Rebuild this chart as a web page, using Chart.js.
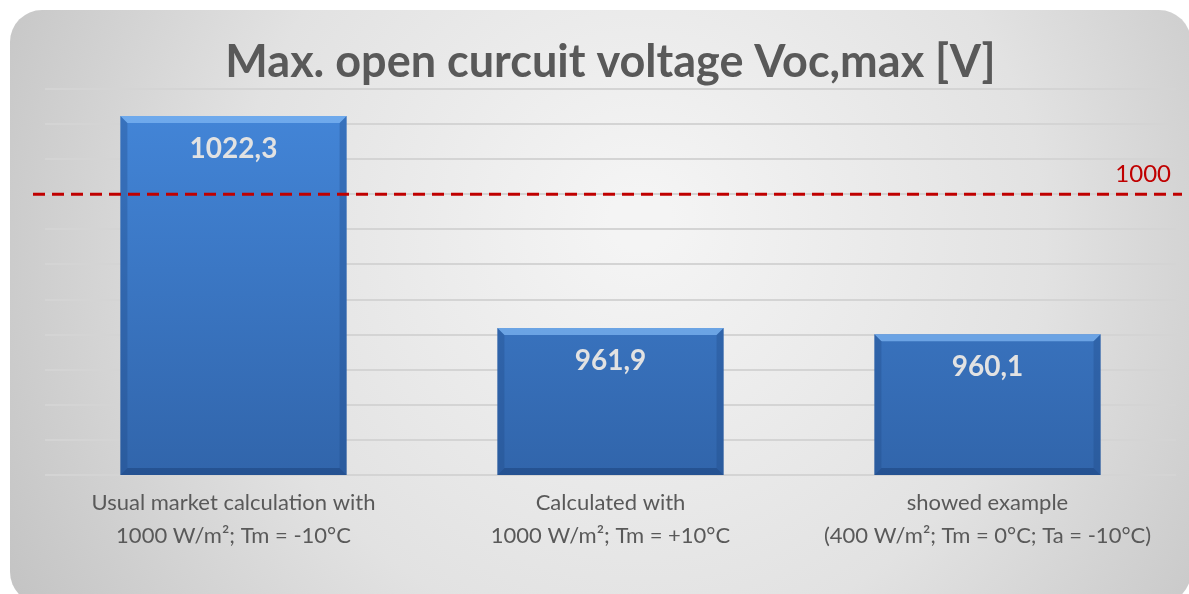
<!DOCTYPE html>
<html lang="en">
<head>
<meta charset="UTF-8">
<title>Max. open curcuit voltage Voc,max [V]</title>
<script src="https://cdn.jsdelivr.net/npm/chart.js"></script>
<style>
  html, body { margin: 0; padding: 0; background: #fff; }
  #wrap { width: 1189px; height: 594px; }
</style>
</head>
<body>
<div id="wrap"><canvas id="vocChart"></canvas></div>
<script>
// values
const categories = [
    ['Usual market calculation with', '1000 W/m²; Tm = -10°C'],
    ['Calculated with', '1000 W/m²; Tm = +10°C'],
    ['showed example', '(400 W/m²; Tm = 0°C; Ta = -10°C)']
];
const vocValues = [1022.3, 961.9, 960.1];
const limitValue = 1000;
const yMin = 920, yMax = 1030, yStep = 10;

const FONT = 'Lato, "Open Sans", sans-serif';

// rounded grey card behind everything
const cardBg = {
    id: 'cardBg',
    beforeDraw(chart) {
        const c = chart.ctx, w = chart.width, h = chart.height;
        c.save();
        const g = c.createRadialGradient(640, 220, 30, 640, 260, 780);
        g.addColorStop(0, '#f4f4f4');
        g.addColorStop(0.5, '#e2e2e2');
        g.addColorStop(1, '#bdbdbd');
        c.fillStyle = g;
        c.beginPath();
        c.roundRect(10, 10, w - 8, h, 32);
        c.fill();
        c.restore();
    }
};

// bevel look, value labels and the 1000 V limit line
const barDecor = {
    id: 'barDecor',
    afterDatasetsDraw(chart) {
        const c = chart.ctx;
        const meta = chart.getDatasetMeta(0);
        c.save();
        meta.data.forEach((bar, i) => {
            const p = bar.getProps(['x', 'y', 'base', 'width'], true);
            const l = p.x - p.width / 2, r = p.x + p.width / 2;
            const t = p.y, b = Math.min(p.base, chart.chartArea.bottom), e = 7;
            // top bevel
            c.fillStyle = 'rgba(130,185,245,0.7)';
            c.beginPath();
            c.moveTo(l, t); c.lineTo(r, t); c.lineTo(r - e, t + e); c.lineTo(l + e, t + e);
            c.closePath(); c.fill();
            // side bevels
            c.fillStyle = 'rgba(30,70,130,0.3)';
            c.beginPath();
            c.moveTo(l, t); c.lineTo(l + e, t + e); c.lineTo(l + e, b - e); c.lineTo(l, b);
            c.closePath(); c.fill();
            c.beginPath();
            c.moveTo(r, t); c.lineTo(r - e, t + e); c.lineTo(r - e, b - e); c.lineTo(r, b);
            c.closePath(); c.fill();
            // bottom bevel
            c.fillStyle = 'rgba(25,60,115,0.45)';
            c.beginPath();
            c.moveTo(l, b); c.lineTo(r, b); c.lineTo(r - e, b - e); c.lineTo(l + e, b - e);
            c.closePath(); c.fill();

            // value label
            c.fillStyle = '#e2e2e2';
            c.font = 'bold 28px ' + FONT;
            c.textAlign = 'center';
            c.textBaseline = 'middle';
            c.fillText(vocValues[i].toFixed(1).replace('.', ','), p.x, t + 33);
        });

        // dashed limit line
        const y = chart.scales.y.getPixelForValue(limitValue);
        c.strokeStyle = '#c00000';
        c.lineWidth = 3;
        c.setLineDash([12, 7]);
        c.beginPath();
        c.moveTo(33, y);
        c.lineTo(1182, y);
        c.stroke();
        c.setLineDash([]);
        c.fillStyle = '#c00000';
        c.font = '24px ' + FONT;
        c.textAlign = 'right';
        c.textBaseline = 'bottom';
        c.fillText(String(limitValue), 1171, y - 8);
        c.restore();
    }
};

new Chart(document.getElementById('vocChart'), {
    type: 'bar',
    data: {
        labels: categories,
        datasets: [{
            data: vocValues,
            backgroundColor(ctx) {
                const area = ctx.chart.chartArea;
                if (!area) return '#3a78c8';
                const g = ctx.chart.ctx.createLinearGradient(0, area.top, 0, area.bottom);
                g.addColorStop(0, '#4487da');
                g.addColorStop(1, '#3165ab');
                return g;
            },
            borderWidth: 0,
            categoryPercentage: 0.6,
            barPercentage: 1
        }]
    },
    options: {
        responsive: true,
        maintainAspectRatio: false,
        animation: false,
        layout: { padding: { left: 45, right: 13, top: 0, bottom: 0 } },
        plugins: {
            legend: { display: false },
            tooltip: { enabled: false },
            title: {
                display: true,
                text: 'Max. open curcuit voltage Voc,max [V]',
                color: '#595959',
                font: { family: FONT, size: 45, weight: 'bold', lineHeight: 1.2 },
                padding: { top: 35, bottom: 0 }
            }
        },
        scales: {
            x: {
                grid: { display: false },
                border: { display: false },
                ticks: {
                    color: '#595959',
                    font: { family: FONT, size: 22, lineHeight: 1.5 },
                    padding: 3,
                    autoSkip: false,
                    maxRotation: 0
                },
                afterFit(s) { s.height = 119; }
            },
            y: {
                min: yMin,
                max: yMax,
                ticks: { display: false, stepSize: yStep },
                grid: { color: '#d4d4d4', lineWidth: 2, drawTicks: false },
                border: { display: false },
                afterFit(s) { s.width = 0; }
            }
        }
    },
    plugins: [cardBg, barDecor]
});
</script>
</body>
</html>
